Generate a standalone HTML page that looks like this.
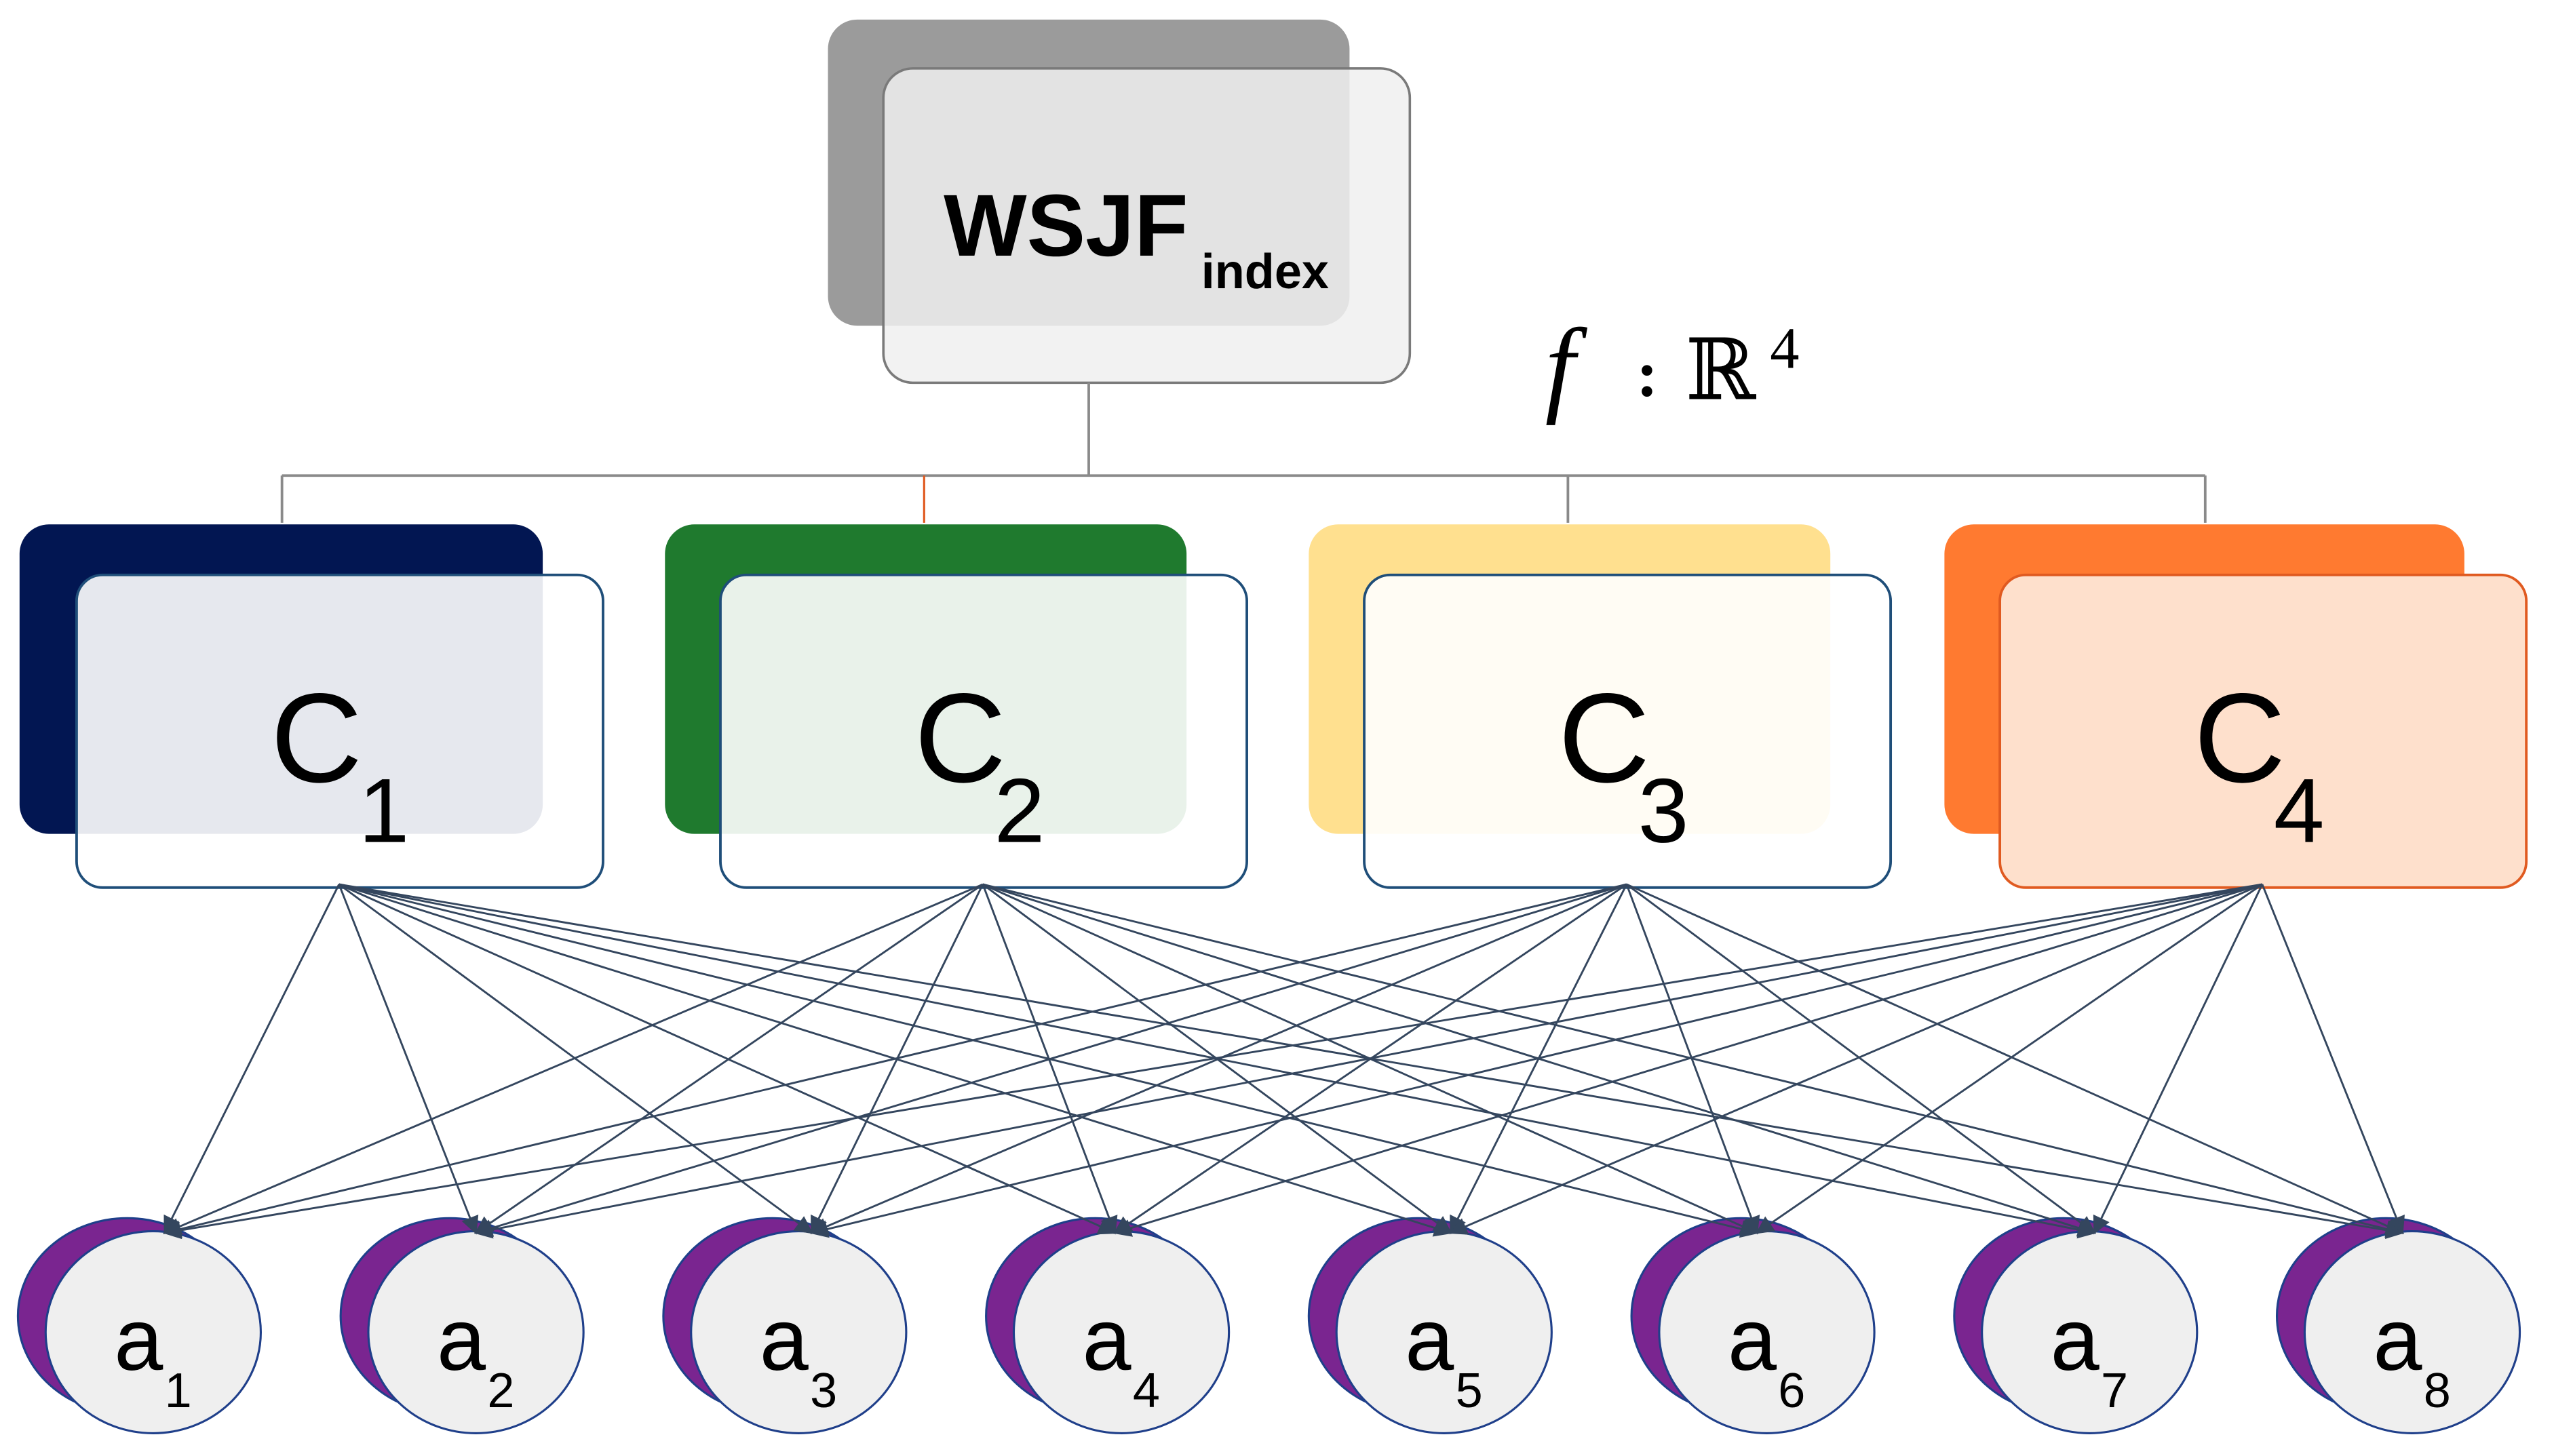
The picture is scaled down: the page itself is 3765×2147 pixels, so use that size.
<!DOCTYPE html>
<html><head><meta charset="utf-8"><style>
html,body{margin:0;padding:0;background:#fff}
svg{display:block}
</style></head><body>
<svg width="3765" height="2147" viewBox="0 0 1567 894" preserveAspectRatio="none" xmlns="http://www.w3.org/2000/svg">
<defs>
<marker id="ah" viewBox="0 0 10 10" refX="9" refY="5" markerWidth="13" markerHeight="11" markerUnits="userSpaceOnUse" orient="auto">
<path d="M0,0 L10,5 L0,10 Z" fill="#34465e"/>
</marker>
</defs>
<!-- WSJF -->
<rect x="508" y="12" width="320" height="188" rx="18" fill="#9b9b9b"/>
<rect x="542" y="42" width="323" height="193" rx="18" fill="#f0f0f0" fill-opacity="0.85" stroke="#7a7a7a" stroke-width="1.5"/>
<text x="579" y="157" font-family="Liberation Sans, sans-serif" font-weight="bold" font-size="54" fill="#000">WSJF</text>
<text x="737" y="177" font-family="Liberation Sans, sans-serif" font-weight="bold" font-size="30" fill="#000">index</text>
<text x="948" y="247" font-family="Liberation Serif, serif" font-style="italic" font-size="66" fill="#000">f</text>
<text x="1004" y="243" font-family="Liberation Serif, serif" font-weight="bold" font-size="40" fill="#000">:</text>
<text x="1034" y="245" font-family="DejaVu Serif, serif" font-size="52" fill="#000">ℝ</text>
<text x="1086" y="226" font-family="Liberation Serif, serif" font-size="36" fill="#000">4</text>
<!-- tree lines -->
<g stroke="#8a8a8a" stroke-width="1.6" fill="none">
<line x1="668" y1="235" x2="668" y2="292"/>
<line x1="173" y1="292" x2="1353" y2="292"/>
<line x1="173" y1="292" x2="173" y2="321"/>
<line x1="962" y1="292" x2="962" y2="321"/>
<line x1="1353" y1="292" x2="1353" y2="321"/>
</g>
<line x1="567" y1="292" x2="567" y2="321" stroke="#e05a20" stroke-width="1.3"/>
<!-- C boxes -->
<rect x="12" y="322" width="321" height="190" rx="18" fill="#021652"/>
<rect x="47" y="353" width="323" height="192" rx="16" fill="#fff" fill-opacity="0.9" stroke="#1f4e79" stroke-width="1.6"/>
<rect x="408" y="322" width="320" height="190" rx="18" fill="#1f7a2e"/>
<rect x="442" y="353" width="323" height="192" rx="16" fill="#fff" fill-opacity="0.9" stroke="#1f4e79" stroke-width="1.6"/>
<rect x="803" y="322" width="320" height="190" rx="18" fill="#ffe08f"/>
<rect x="837" y="353" width="323" height="192" rx="16" fill="#fff" fill-opacity="0.9" stroke="#1f4e79" stroke-width="1.6"/>
<rect x="1193" y="322" width="319" height="190" rx="18" fill="#ff7a30"/>
<rect x="1227" y="353" width="323" height="192" rx="16" fill="#fee0cc" stroke="#e05a20" stroke-width="1.6"/>
<g font-family="Liberation Sans, sans-serif" fill="#000">
<text x="166" y="480" font-size="78">C</text><text x="220" y="517" font-size="56">1</text>
<text x="561" y="480" font-size="78">C</text><text x="610" y="517" font-size="56">2</text>
<text x="956" y="480" font-size="78">C</text><text x="1005" y="517" font-size="56">3</text>
<text x="1346" y="480" font-size="78">C</text><text x="1395" y="517" font-size="56">4</text>
</g>
<!-- a nodes -->
<g stroke="#1f3f8a" stroke-width="1.3">
<ellipse cx="78" cy="808" rx="67" ry="60" fill="#7a2590"/><ellipse cx="94" cy="818" rx="66" ry="62" fill="#efefef"/>
<ellipse cx="276" cy="808" rx="67" ry="60" fill="#7a2590"/><ellipse cx="292" cy="818" rx="66" ry="62" fill="#efefef"/>
<ellipse cx="474" cy="808" rx="67" ry="60" fill="#7a2590"/><ellipse cx="490" cy="818" rx="66" ry="62" fill="#efefef"/>
<ellipse cx="672" cy="808" rx="67" ry="60" fill="#7a2590"/><ellipse cx="688" cy="818" rx="66" ry="62" fill="#efefef"/>
<ellipse cx="870" cy="808" rx="67" ry="60" fill="#7a2590"/><ellipse cx="886" cy="818" rx="66" ry="62" fill="#efefef"/>
<ellipse cx="1068" cy="808" rx="67" ry="60" fill="#7a2590"/><ellipse cx="1084" cy="818" rx="66" ry="62" fill="#efefef"/>
<ellipse cx="1266" cy="808" rx="67" ry="60" fill="#7a2590"/><ellipse cx="1282" cy="818" rx="66" ry="62" fill="#efefef"/>
<ellipse cx="1464" cy="808" rx="67" ry="60" fill="#7a2590"/><ellipse cx="1480" cy="818" rx="66" ry="62" fill="#efefef"/>
</g>
<g font-family="Liberation Sans, sans-serif" fill="#000">
<text x="70" y="841" font-size="54">a</text><text x="101" y="864" font-size="30">1</text>
<text x="268" y="841" font-size="54">a</text><text x="299" y="864" font-size="30">2</text>
<text x="466" y="841" font-size="54">a</text><text x="497" y="864" font-size="30">3</text>
<text x="664" y="841" font-size="54">a</text><text x="695" y="864" font-size="30">4</text>
<text x="862" y="841" font-size="54">a</text><text x="893" y="864" font-size="30">5</text>
<text x="1060" y="841" font-size="54">a</text><text x="1091" y="864" font-size="30">6</text>
<text x="1258" y="841" font-size="54">a</text><text x="1289" y="864" font-size="30">7</text>
<text x="1456" y="841" font-size="54">a</text><text x="1487" y="864" font-size="30">8</text>
</g>
<!-- connectors -->
<g stroke="#34465e" stroke-width="1.2" marker-end="url(#ah)">
<line x1="208" y1="543" x2="101" y2="757"/><line x1="208" y1="543" x2="292" y2="757"/><line x1="208" y1="543" x2="498" y2="757"/><line x1="208" y1="543" x2="684" y2="757"/><line x1="208" y1="543" x2="890" y2="757"/><line x1="208" y1="543" x2="1078" y2="757"/><line x1="208" y1="543" x2="1285" y2="757"/><line x1="208" y1="543" x2="1474" y2="757"/>
<line x1="603" y1="543" x2="101" y2="757"/><line x1="603" y1="543" x2="292" y2="757"/><line x1="603" y1="543" x2="498" y2="757"/><line x1="603" y1="543" x2="684" y2="757"/><line x1="603" y1="543" x2="890" y2="757"/><line x1="603" y1="543" x2="1078" y2="757"/><line x1="603" y1="543" x2="1285" y2="757"/><line x1="603" y1="543" x2="1474" y2="757"/>
<line x1="998" y1="543" x2="101" y2="757"/><line x1="998" y1="543" x2="292" y2="757"/><line x1="998" y1="543" x2="498" y2="757"/><line x1="998" y1="543" x2="684" y2="757"/><line x1="998" y1="543" x2="890" y2="757"/><line x1="998" y1="543" x2="1078" y2="757"/><line x1="998" y1="543" x2="1285" y2="757"/><line x1="998" y1="543" x2="1474" y2="757"/>
<line x1="1388" y1="543" x2="101" y2="757"/><line x1="1388" y1="543" x2="292" y2="757"/><line x1="1388" y1="543" x2="498" y2="757"/><line x1="1388" y1="543" x2="684" y2="757"/><line x1="1388" y1="543" x2="890" y2="757"/><line x1="1388" y1="543" x2="1078" y2="757"/><line x1="1388" y1="543" x2="1285" y2="757"/><line x1="1388" y1="543" x2="1474" y2="757"/>
</g>
</svg>
</body></html>
